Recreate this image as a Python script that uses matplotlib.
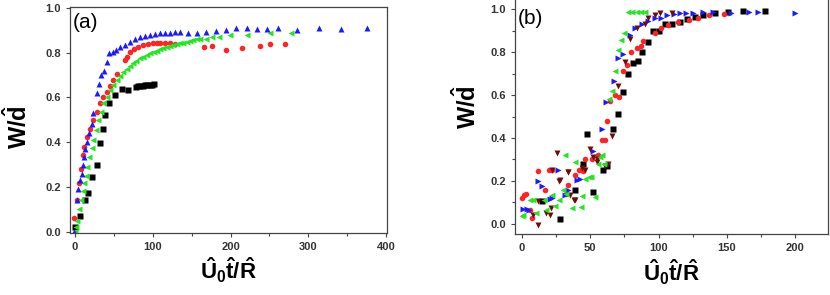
import matplotlib
matplotlib.use("Agg")
import matplotlib.pyplot as plt
from matplotlib.ticker import MultipleLocator

plt.rcParams['font.family'] = ['Liberation Sans', 'DejaVu Sans']
plt.rcParams['mathtext.fontset'] = 'custom'
plt.rcParams['mathtext.bf'] = 'Liberation Sans:bold'
plt.rcParams['mathtext.rm'] = 'Liberation Sans'
plt.rcParams['mathtext.it'] = 'Liberation Sans:italic'

# panel (a)
a_black_x = [0, 6, 13, 17, 22, 28, 32, 36, 38, 44, 51, 60, 68, 78, 81, 84, 87, 90, 93, 96, 99, 102]
a_black_y = [0.02, 0.07, 0.14, 0.175, 0.245, 0.30, 0.395, 0.46, 0.52, 0.575, 0.61, 0.64, 0.635, 0.647,
             0.65, 0.652, 0.652, 0.655, 0.655, 0.657, 0.657, 0.658]

a_red_x = [-1, 3, 5.5, 7.3, 9.9, 11.6, 15, 19.3, 23.6, 28, 32, 36, 40.8, 45, 49.3, 54.4, 64, 66.5, 71, 76,
           81.5, 88, 94, 100, 105, 109, 116, 122, 128, 166, 176, 194, 215, 238, 251, 270]
a_red_y = [0.06, 0.14, 0.216, 0.28, 0.343, 0.38, 0.425, 0.46, 0.50, 0.536, 0.574, 0.60, 0.626, 0.651, 0.678,
           0.705, 0.767, 0.78, 0.805, 0.815, 0.827, 0.835, 0.839, 0.842, 0.843, 0.845, 0.845, 0.842, 0.84,
           0.827, 0.83, 0.81, 0.82, 0.83, 0.84, 0.84]

a_blue_x = [-1, 2, 4.3, 6.4, 8.6, 9.9, 11.6, 12.9, 15, 18.4, 21.5, 23.6, 28, 31, 34, 37, 40.8, 44, 48.5, 52.8,
            58, 64, 71, 77, 83.6, 90, 96.5, 103, 109, 116, 122, 128.7, 135, 145, 157, 168, 181, 194, 207,
            221, 234, 247, 261, 286, 314, 342, 376]
a_blue_y = [0.0, 0.14, 0.19, 0.23, 0.26, 0.30, 0.335, 0.37, 0.40, 0.44, 0.48, 0.53, 0.62, 0.66, 0.70, 0.72,
            0.76, 0.80, 0.805, 0.81, 0.825, 0.835, 0.85, 0.86, 0.87, 0.875, 0.88, 0.884, 0.887, 0.888, 0.89,
            0.891, 0.891, 0.89, 0.89, 0.894, 0.897, 0.901, 0.909, 0.909, 0.904, 0.904, 0.909, 0.90, 0.909,
            0.904, 0.909]

a_green_x = [0, 1.3, 3, 5.5, 7.3, 9.9, 11.6, 14.2, 15.9, 18.4, 21.5, 23.6, 27, 30, 33, 36, 40.8, 45, 49.3,
             53.6, 58, 62, 66.5, 71, 75, 79, 83.6, 88, 92, 96.5, 101, 105, 109, 113, 118, 122, 126, 131,
             135, 139, 144, 148, 152, 157, 161, 168, 176, 185, 199, 221, 251, 278]
a_green_y = [0.0, 0.02, 0.05, 0.10, 0.14, 0.18, 0.216, 0.25, 0.29, 0.335, 0.373, 0.41, 0.455, 0.50, 0.536,
             0.574, 0.60, 0.633, 0.656, 0.678, 0.696, 0.712, 0.727, 0.74, 0.753, 0.764, 0.775, 0.782, 0.79,
             0.797, 0.803, 0.809, 0.815, 0.82, 0.824, 0.829, 0.833, 0.838, 0.842, 0.845, 0.848, 0.852,
             0.857, 0.86, 0.863, 0.86, 0.87, 0.87, 0.88, 0.88, 0.89, 0.89]

# panel (b)
b_black_x = [14.6, 28, 39, 44.5, 48, 52, 59.5, 62.6, 66.5, 70.5, 73.8, 78, 81.6, 84.8, 88, 92.6, 95.8,
             100.4, 104.8, 109.7, 115.8, 120.7, 126.8, 132.8, 141, 151, 162, 178]
b_black_y = [0.105, 0.023, 0.16, 0.28, 0.417, 0.15, 0.25, 0.27, 0.44, 0.51, 0.615, 0.70, 0.75, 0.76, 0.80,
             0.847, 0.90, 0.90, 0.93, 0.93, 0.94, 0.953, 0.964, 0.97, 0.98, 0.985, 0.99, 0.99]

b_red_x = [0, 1.7, 3, 6, 7.3, 11.5, 17, 19.5, 22.4, 32, 34, 39, 42, 45, 46, 51, 56, 59, 60.5, 62, 64.6, 68,
           71, 74, 77, 80, 84, 87, 89, 97.5, 102, 107, 114.6, 122, 129, 137, 147.6]
b_red_y = [0.12, 0.136, 0.14, 0.065, 0.03, 0.245, 0.16, 0.25, 0.25, 0.14, 0.18, 0.23, 0.25, 0.245, 0.30,
           0.30, 0.32, 0.39, 0.39, 0.48, 0.57, 0.60, 0.59, 0.71, 0.74, 0.80, 0.82, 0.83, 0.85, 0.89, 0.91,
           0.925, 0.94, 0.95, 0.96, 0.97, 0.975]

b_blue_x = [1, 4, 5, 12, 14.6, 20.7, 22, 26.8, 31.7, 34, 40, 42.6, 52.4, 58.5, 61.7, 67.5, 70, 74, 79.2, 83,
            87.8, 92, 97.5, 102, 106.5, 111, 115.8, 120, 125.3, 132.8, 140, 153, 166, 173, 200]
b_blue_y = [0.07, 0.07, 0.065, 0.2, 0.175, 0.117, 0.12, 0.253, 0.136, 0.16, 0.206, 0.21, 0.34, 0.44, 0.566,
            0.667, 0.77, 0.79, 0.88, 0.91, 0.93, 0.945, 0.956, 0.96, 0.97, 0.975, 0.98, 0.98, 0.98, 0.985,
            0.985, 0.98, 0.985, 0.985, 0.98]

b_green_x = [0, 1.2, 6, 8.5, 10, 16, 18, 22, 24, 27, 30.4, 31.7, 32, 36.6, 39, 43.4, 44, 46, 49, 50.5, 53.6,
             56, 57.3, 58.5, 60, 63.4, 65.8, 68.3, 70.7, 72.4, 74.4, 78, 80.5, 84, 87, 90]
b_green_y = [0.035, 0.042, 0.11, 0.11, 0.05, 0.11, 0.065, 0.135, 0.084, 0.11, 0.16, 0.32, 0.14, 0.073, 0.29,
             0.078, 0.13, 0.21, 0.22, 0.22, 0.125, 0.28, 0.31, 0.32, 0.28, 0.58, 0.62, 0.71, 0.81, 0.855,
             0.89, 0.985, 0.985, 0.985, 0.985, 0.985]

b_brown_x = [8.5, 12, 12, 18, 20.7, 21, 22, 25.6, 27, 28, 33.6, 34, 35.3, 38.5, 39, 44, 46.3, 50, 52, 55,
             55.3, 61, 63, 65.8, 70.7, 75.6, 79.2, 84.6, 90, 92.6, 97.6, 101, 109.7]
b_brown_y = [0.04, 0.105, -0.005, 0.05, 0.042, 0.075, 0.25, 0.33, 0.2, 0.206, 0.24, 0.24, 0.136, 0.11, 0.11,
             0.26, 0.25, 0.35, 0.31, 0.30, 0.29, 0.27, 0.28, 0.41, 0.64, 0.753, 0.86, 0.913, 0.93, 0.96,
             0.97, 0.98, 0.98]

xlabel = r'$\mathbf{\hat{U}_0\hat{t}/\hat{R}}$'
ylabel = r'$\mathbf{W/\hat{d}}$'

BLUE = '#1a1aff'
RED = '#ff2424'
GREEN = '#22e622'
BROWN = '#6e0c0c'
ms = 4.0

fig = plt.figure(figsize=(8.3, 2.95), dpi=100)
ax1 = fig.add_axes([0.0843, 0.210, 0.3817, 0.766])
ax2 = fig.add_axes([0.6205, 0.2058, 0.3771, 0.8])


def style(ax):
    for s in ax.spines.values():
        s.set_color('#444444')
        s.set_linewidth(0.9)
    ax.tick_params(which='both', direction='out', color='#444444', width=0.8,
                   labelsize=8, labelcolor='#333333')
    ax.tick_params(which='major', length=3)
    ax.tick_params(which='minor', length=2)
    for lab in ax.get_xticklabels() + ax.get_yticklabels():
        lab.set_fontweight('bold')


# (a)
ax1.plot(a_black_x, a_black_y, 's', color='black', ms=ms, mec='none')
ax1.plot(a_red_x, a_red_y, 'o', color=RED, ms=ms, mec='none')
ax1.plot(a_green_x, a_green_y, '<', color=GREEN, ms=ms + 0.5, mec='none')
ax1.plot(a_blue_x, a_blue_y, '^', color=BLUE, ms=ms + 0.5, mec='none')
ax1.set_xlim(-6.5, 401)
ax1.set_ylim(-0.006, 1.004)
ax1.xaxis.set_major_locator(MultipleLocator(100))
ax1.xaxis.set_minor_locator(MultipleLocator(50))
ax1.set_yticks([0, 0.2, 0.4, 0.6, 0.8, 1.0])
ax1.set_yticklabels(['0.0', '0.2', '0.4', '0.6', '0.8', '1.0'])
style(ax1)
ax1.set_xlabel(xlabel, fontsize=16)
ax1.set_ylabel(ylabel, fontsize=17)
ax1.xaxis.set_label_coords(0.5, -0.10)
ax1.yaxis.set_label_coords(-0.12, 0.47)
ax1.text(0.008, 0.975, '(a)', transform=ax1.transAxes, fontsize=15, va='top', ha='left')

# (b)
ax2.plot(b_black_x, b_black_y, 's', color='black', ms=ms, mec='none')
ax2.plot(b_red_x, b_red_y, 'o', color=RED, ms=ms, mec='none')
ax2.plot(b_blue_x, b_blue_y, '>', color=BLUE, ms=ms + 0.5, mec='none')
ax2.plot(b_brown_x, b_brown_y, 'v', color=BROWN, ms=ms + 0.5, mec='none')
ax2.plot(b_green_x, b_green_y, '<', color=GREEN, ms=ms + 0.5, mec='none')
ax2.set_xlim(-5, 224)
ax2.set_ylim(-0.048, 1.05)
ax2.xaxis.set_major_locator(MultipleLocator(50))
ax2.xaxis.set_minor_locator(MultipleLocator(25))
ax2.yaxis.set_minor_locator(MultipleLocator(0.1))
ax2.set_yticks([0, 0.2, 0.4, 0.6, 0.8, 1.0])
ax2.set_yticklabels(['0.0', '0.2', '0.4', '0.6', '0.8', '1.0'])
style(ax2)
ax2.set_xlabel(xlabel, fontsize=16)
ax2.set_ylabel(ylabel, fontsize=17)
ax2.xaxis.set_label_coords(0.5, -0.10)
ax2.yaxis.set_label_coords(-0.11, 0.54)
ax2.text(0.008, 0.955, '(b)', transform=ax2.transAxes, fontsize=15, va='top', ha='left')

fig.savefig('out.png', dpi=100)
